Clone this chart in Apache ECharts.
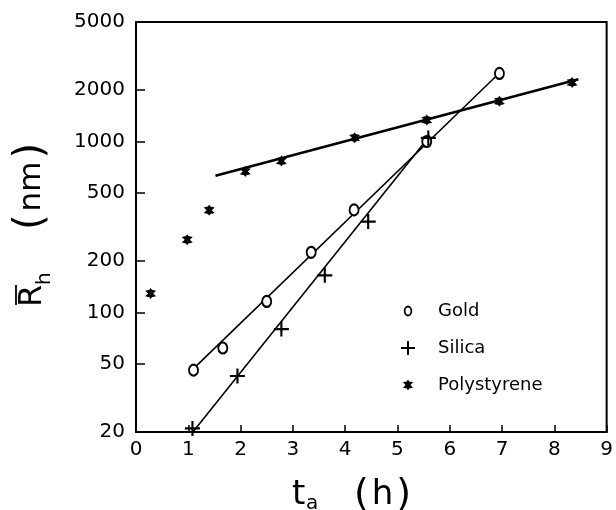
<!DOCTYPE html>
<html>
<head>
<meta charset="utf-8">
<script src="https://cdn.jsdelivr.net/npm/echarts@6/dist/echarts.min.js"></script>
<style>
  html, body { margin: 0; padding: 0; background: #fff; }
  #chart { width: 616px; height: 510px; }
</style>
</head>
<body>
<div id="chart"></div>
<script>
// Hydrodynamic radius versus aggregation time
const goldT = [1.10, 1.66, 2.50, 3.35, 4.17, 5.56, 6.95];
const goldR = [46, 62, 116, 225, 398, 1000, 2500];
const silicaT = [1.08, 1.94, 2.78, 3.61, 4.44, 5.59];
const silicaR = [21, 42.5, 80, 165, 340, 1050];
const polyT = [0.28, 0.98, 1.40, 2.09, 2.78, 4.18, 5.56, 6.95, 8.34];
const polyR = [129, 266, 396, 667, 769, 1052, 1334, 1722, 2213];

// fitted straight lines (exponential growth on the log scale): end points
const goldFitT = [1.10, 6.88];
const goldFitR = [47, 2400];
const silicaFitT = [1.10, 5.62];
const silicaFitR = [20.2, 1080];
const polyFitT = [1.52, 8.46];
const polyFitR = [631, 2312];

const yTicks = [20, 50, 100, 200, 500, 1000, 2000, 5000];
const xTicks = [0, 1, 2, 3, 4, 5, 6, 7, 8, 9];

const pair = (xs, ys) => xs.map((x, i) => [x, ys[i]]);

const FONT = '"DejaVu Sans", sans-serif';
const PLUS = 'path://M6,0h2v6h6v2h-6v6h-2v-6h-6v-2h6z';
const STAR = 'path://M5,0L6,1.6L9.33,2.5L7,5L9.33,7.5L6,8.4L5,10L4,8.4L0.67,7.5L3,5L0.67,2.5L4,1.6Z';
// legend icons framed in a 14x14 box so they keep their own size
const RING_ICON = 'path://M0,0M14,14M7,1.6A4.3,5.4,0,1,1,6.99,1.6ZM7,3.4A2.5,3.6,0,1,0,7.01,3.4Z';
const STAR_ICON = 'path://M0,0M14,14M7,1.5L8.2,3.4L12.2,4.3L9.4,7L12.2,9.7L8.2,10.6L7,12.5L5.8,10.6L1.8,9.7L4.6,7L1.8,4.3L5.8,3.4Z';

const chart = echarts.init(document.getElementById('chart'), null, { renderer: 'canvas' });

const fitLine = (xs, ys, w) => ({
  type: 'line',
  data: pair(xs, ys),
  symbol: 'none',
  silent: true,
  lineStyle: { color: '#000', width: w },
  z: 2
});

const txt = (text, x, y, size, extra) => ({
  type: 'text', x: x, y: y, silent: true,
  style: Object.assign({
    text: text, fill: '#000',
    font: size + 'px "DejaVu Sans", sans-serif',
    align: 'left', verticalAlign: 'middle'
  }, extra || {})
});

chart.setOption({
  backgroundColor: '#fff',
  animation: false,
  grid: {
    left: 136, right: 7, top: 22, bottom: 78,
    show: true, borderColor: '#000', borderWidth: 2
  },
  xAxis: {
    type: 'value', min: 0, max: 9, interval: 1,
    axisLine: { show: true, lineStyle: { color: '#000', width: 2 } },
    axisTick: { show: true, inside: true, length: 7, lineStyle: { color: '#000', width: 1.5 } },
    axisLabel: { color: '#000', fontFamily: FONT, fontSize: 20, margin: 8,
      customValues: xTicks, formatter: v => String(v) },
    splitLine: { show: false }
  },
  yAxis: {
    type: 'log', logBase: 10, min: 20, max: 5000,
    axisLine: { show: true, lineStyle: { color: '#000', width: 2 } },
    axisTick: { show: true, inside: true, length: 9, customValues: yTicks,
      lineStyle: { color: '#000', width: 1.5 } },
    axisLabel: { color: '#000', fontFamily: FONT, fontSize: 20, margin: 11,
      customValues: yTicks, formatter: v => String(Math.round(v)) },
    splitLine: { show: false },
    minorTick: { show: false }
  },
  legend: {
    orient: 'vertical',
    left: 396, top: 297,
    itemGap: 19,
    itemWidth: 14, itemHeight: 14,
    selectedMode: false,
    itemStyle: { borderWidth: 0, color: '#000' },
    textStyle: { color: '#000', fontFamily: FONT, fontSize: 18, padding: [0, 0, 0, 18] },
    data: [
      { name: 'Gold', icon: RING_ICON },
      { name: 'Silica', icon: PLUS },
      { name: 'Polystyrene', icon: STAR_ICON }
    ]
  },
  graphic: [
    // horizontal axis title: t_a (h)
    txt('t', 292, 495, 34),
    txt('a', 306, 504, 20),
    {
      type: 'text', x: 354, y: 495, silent: true,
      style: {
        text: '{p|(}{m|h}{p|)}', fill: '#000', align: 'left', verticalAlign: 'middle',
        rich: {
          p: { fontFamily: FONT, fontSize: 38, fill: '#000' },
          m: { fontFamily: FONT, fontSize: 34, fill: '#000', padding: [0, 3, 0, 3] }
        }
      }
    },
    // vertical axis title: R-bar_h (nm), reading bottom to top
    {
      type: 'group', x: 42, y: 307, rotation: Math.PI / 2, silent: true,
      children: [
        txt('R', 0, -9.5, 32),
        {
          type: 'line', silent: true,
          shape: { x1: 2, y1: -26, x2: 22, y2: -26 },
          style: { stroke: '#000', lineWidth: 1.8 }
        },
        txt('h', 22, 3, 20),
        {
          type: 'text', x: 77, y: -10, silent: true,
          style: {
            text: '{p|(}{m|nm}{p|)}', fill: '#000', align: 'left', verticalAlign: 'middle',
            rich: {
              p: { fontFamily: FONT, fontSize: 40, fill: '#000' },
              m: { fontFamily: FONT, fontSize: 31, fill: '#000', padding: [0, 3, 0, 3] }
            }
          }
        }
      ]
    }
  ],
  series: [
    fitLine(goldFitT, goldFitR, 1.6),
    fitLine(silicaFitT, silicaFitR, 1.6),
    fitLine(polyFitT, polyFitR, 2.6),
    {
      name: 'Gold', type: 'scatter', data: pair(goldT, goldR),
      symbol: 'emptyCircle', symbolSize: [9, 11],
      itemStyle: { color: '#000', borderWidth: 1.8, opacity: 1 }, z: 3
    },
    {
      name: 'Silica', type: 'scatter', data: pair(silicaT, silicaR),
      symbol: PLUS, symbolSize: 15,
      itemStyle: { color: '#000', opacity: 1 }, z: 3
    },
    {
      name: 'Polystyrene', type: 'scatter', data: pair(polyT, polyR),
      symbol: STAR, symbolSize: 11,
      itemStyle: { color: '#000', opacity: 1 }, z: 3
    }
  ]
});
</script>
</body>
</html>
